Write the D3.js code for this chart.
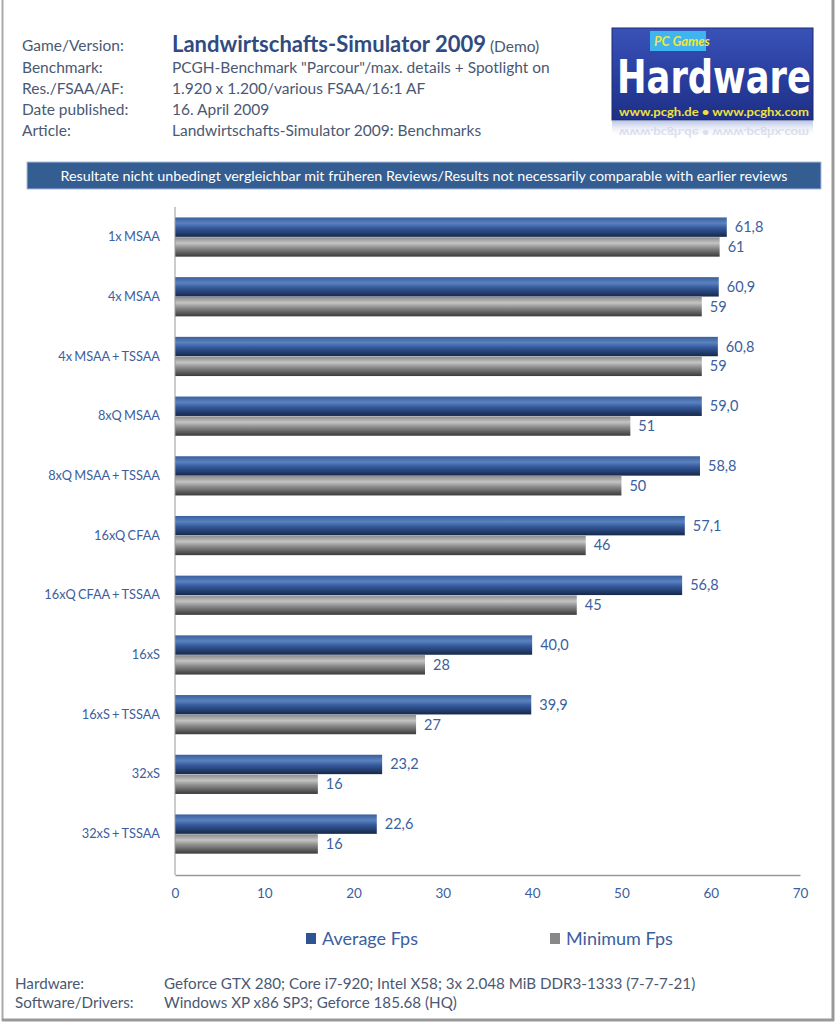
<!DOCTYPE html>
<html><head><meta charset="utf-8">
<script src="https://cdn.jsdelivr.net/npm/d3@7/dist/d3.min.js"></script>
<style>body{margin:0;background:#fff}svg{display:block}</style>
</head><body>
<svg id="c" width="837" height="1024"></svg>
<script>
const categories = ["1x MSAA","4x MSAA","4x MSAA + TSSAA","8xQ MSAA","8xQ MSAA + TSSAA","16xQ CFAA","16xQ CFAA + TSSAA","16xS","16xS + TSSAA","32xS","32xS + TSSAA"];
const averageFps = [61.8,60.9,60.8,59.0,58.8,57.1,56.8,40.0,39.9,23.2,22.6];
const minimumFps = [61,59,59,51,50,46,45,28,27,16,16];
const seriesNames = ["Average Fps","Minimum Fps"];
const xTicks = [0,10,20,30,40,50,60,70];
const headerLabels = ["Game/Version:","Benchmark:","Res./FSAA/AF:","Date published:","Article:"];
const headerValues = ["Landwirtschafts-Simulator 2009","PCGH-Benchmark \"Parcour\"/max. details + Spotlight on","1.920 x 1.200/various FSAA/16:1 AF","16. April 2009","Landwirtschafts-Simulator  2009: Benchmarks"];
const footerLabels = ["Hardware:","Software/Drivers:"];
const footerValues = ["Geforce GTX 280; Core i7-920; Intel X58; 3x 2.048 MiB DDR3-1333 (7-7-7-21)","Windows XP x86 SP3; Geforce 185.68 (HQ)"];
const bannerText = "Resultate nicht unbedingt  vergleichbar mit früheren Reviews/Results not necessarily comparable with earlier reviews";

const svg = d3.select("#c");
const FONT = "Lato, 'Open Sans', sans-serif";
const txtCol = "#4a5873";
const blueTxt = "#3b5e9e";

const defs = svg.append("defs");
const gb = defs.append("linearGradient").attr("id","gBlue").attr("x1",0).attr("y1",0).attr("x2",0).attr("y2",1);
[[0,"#3a609c"],[0.3,"#5a82bf"],[0.55,"#34589a"],[1,"#16284a"]].forEach(s=>gb.append("stop").attr("offset",s[0]).attr("stop-color",s[1]));
const gg = defs.append("linearGradient").attr("id","gGray").attr("x1",0).attr("y1",0).attr("x2",0).attr("y2",1);
[[0,"#8a8a8a"],[0.3,"#c4c4c4"],[0.55,"#8c8c8c"],[1,"#3a3a3a"]].forEach(s=>gg.append("stop").attr("offset",s[0]).attr("stop-color",s[1]));
const gl = defs.append("linearGradient").attr("id","gLogo").attr("x1",0).attr("y1",0).attr("x2",0).attr("y2",1);
[[0,"#3a52b8"],[0.5,"#2a3fa0"],[1,"#1d2f86"]].forEach(s=>gl.append("stop").attr("offset",s[0]).attr("stop-color",s[1]));
const gr = defs.append("linearGradient").attr("id","gRefl").attr("x1",0).attr("y1",0).attr("x2",0).attr("y2",1);
gr.append("stop").attr("offset",0).attr("stop-color","#8fa0d8").attr("stop-opacity",0.6);
gr.append("stop").attr("offset",1).attr("stop-color","#ffffff").attr("stop-opacity",0);

// frame
svg.append("line").attr("x1",2.5).attr("x2",2.5).attr("y1",0).attr("y2",1021).attr("stroke","#aaa").attr("stroke-width",2);
svg.append("line").attr("x1",833).attr("x2",833).attr("y1",0).attr("y2",1021).attr("stroke","#999").attr("stroke-width",3);
svg.append("line").attr("x1",2).attr("x2",834).attr("y1",1020).attr("y2",1020).attr("stroke","#999").attr("stroke-width",3);

// header
const hy = [45,67,88,109,130];
headerLabels.forEach((t,i)=>svg.append("text").attr("x",22).attr("y",hy[i]+5.5).attr("font-family",FONT).attr("font-size",15.5).attr("fill",txtCol).text(t));
headerValues.forEach((t,i)=>{
  const el = svg.append("text").attr("x",172).attr("y",hy[i]+5.5).attr("font-family",FONT).attr("fill",txtCol);
  if(i===0){
    el.attr("y",hy[i]+7);
    el.append("tspan").attr("font-size",22).attr("font-weight","bold").attr("fill","#2f4b80").text(t);
    el.append("tspan").attr("font-size",15.5).attr("fill",txtCol).text(" (Demo)");
  } else el.attr("font-size",15.5).text(t);
});

// logo
const lg = svg.append("g");
lg.append("rect").attr("x",612).attr("y",28).attr("width",201).attr("height",92).attr("fill","url(#gLogo)").attr("stroke","#1a2a70").attr("stroke-width",1);
lg.append("rect").attr("x",612).attr("y",121).attr("width",201).attr("height",16).attr("fill","url(#gRefl)");
lg.append("rect").attr("x",650).attr("y",31).attr("width",56).attr("height",20).attr("fill","#3fb4ee");
lg.append("text").attr("x",654).attr("y",46).attr("font-family",FONT).attr("font-style","italic").attr("font-weight","bold").attr("font-size",13).attr("fill","#f4e43a").text("PC Games");
const hw = lg.append("text").attr("x",0).attr("y",0).attr("font-family","'DejaVu Sans Condensed','Liberation Sans',sans-serif").attr("font-weight","bold").attr("font-size",34).attr("fill","#fff").text("Hardware");
const hwW = hw.node().getComputedTextLength();
hw.attr("transform",`translate(617,93) scale(${194/hwW},1.35)`);
lg.append("text").attr("x",714).attr("y",116).attr("text-anchor","middle").attr("font-family",FONT).attr("font-weight","bold").attr("font-size",10.5).attr("fill","#f0e040").attr("textLength",190).attr("lengthAdjust","spacingAndGlyphs").text("www.pcgh.de • www.pcghx.com");
lg.append("text").attr("x",714).attr("y",-129).attr("text-anchor","middle").attr("transform","scale(1,-1)").attr("font-family",FONT).attr("font-weight","bold").attr("font-size",10.5).attr("fill","#c8cce0").attr("opacity",0.6).attr("textLength",190).attr("lengthAdjust","spacingAndGlyphs").text("www.pcgh.de • www.pcghx.com");

// banner
svg.append("rect").attr("x",27).attr("y",162).attr("width",794).attr("height",27).attr("fill","#345d91").attr("stroke","#a8bde0").attr("stroke-width",1);
svg.append("text").attr("x",424).attr("y",180.5).attr("text-anchor","middle").attr("font-family",FONT).attr("font-size",14.3).attr("fill","#fff").text(bannerText);

// chart
const x0 = 175, x1 = 800, yTop = 207, yAxis = 875;
const x = d3.scaleLinear().domain([0,70]).range([x0,x1]);
const y = d3.scaleBand().domain(categories).range([207.2,863.9]).padding(0);
const inner = d3.scaleBand().domain(seriesNames).range([-20,20]).padding(0.02);

const g = svg.append("g");
const series = [averageFps, minimumFps];
const fills = ["url(#gBlue)","url(#gGray)"];
series.forEach((vals,si)=>{
  g.selectAll(null).data(vals).enter().append("rect")
    .attr("x",x(0)).attr("y",(d,i)=>y(categories[i])+y.bandwidth()/2+inner(seriesNames[si]))
    .attr("width",d=>x(d)-x(0)).attr("height",inner.bandwidth())
    .attr("fill",fills[si]);
  g.selectAll(null).data(vals).enter().append("text")
    .attr("x",d=>x(d)+8).attr("y",(d,i)=>y(categories[i])+y.bandwidth()/2+inner(seriesNames[si])+inner.bandwidth()/2+5)
    .attr("font-family",FONT).attr("font-size",14.5).attr("fill",blueTxt)
    .text(d=> si===0 ? d3.format(".1f")(d).replace(".",",") : d3.format("d")(d));
});

// axes
const yAx = svg.append("g").attr("transform",`translate(${x0},0)`).call(d3.axisLeft(y).tickSize(0).tickPadding(15));
yAx.select(".domain").remove();
yAx.selectAll("text").attr("font-family",FONT).attr("font-size",12.8).attr("word-spacing",-1).attr("fill",blueTxt);
svg.append("line").attr("x1",x0).attr("x2",x0).attr("y1",yTop).attr("y2",yAxis).attr("stroke","#999").attr("stroke-width",1);
const xAx = svg.append("g").attr("transform",`translate(0,${yAxis})`).call(d3.axisBottom(x).tickValues(xTicks).tickSize(0).tickPadding(13));
xAx.select(".domain").attr("stroke","#999").attr("stroke-width",1.5);
xAx.selectAll("text").attr("font-family",FONT).attr("font-size",13.5).attr("fill",blueTxt);

// legend
const legX = [306,550];
seriesNames.forEach((n,i)=>{
  svg.append("rect").attr("x",legX[i]).attr("y",933).attr("width",10).attr("height",11).attr("fill",i===0?"#2f5492":"#888");
  svg.append("text").attr("x",legX[i]+16).attr("y",944.5).attr("font-family",FONT).attr("font-size",18).attr("fill",blueTxt).text(n);
});

// footer
const fy = [983,1002];
footerLabels.forEach((t,i)=>svg.append("text").attr("x",15).attr("y",fy[i]+5.5).attr("font-family",FONT).attr("font-size",15.2).attr("fill",txtCol).text(t));
footerValues.forEach((t,i)=>svg.append("text").attr("x",164).attr("y",fy[i]+5.5).attr("font-family",FONT).attr("font-size",15.2).attr("fill",txtCol).text(t));
</script>
</body></html>
